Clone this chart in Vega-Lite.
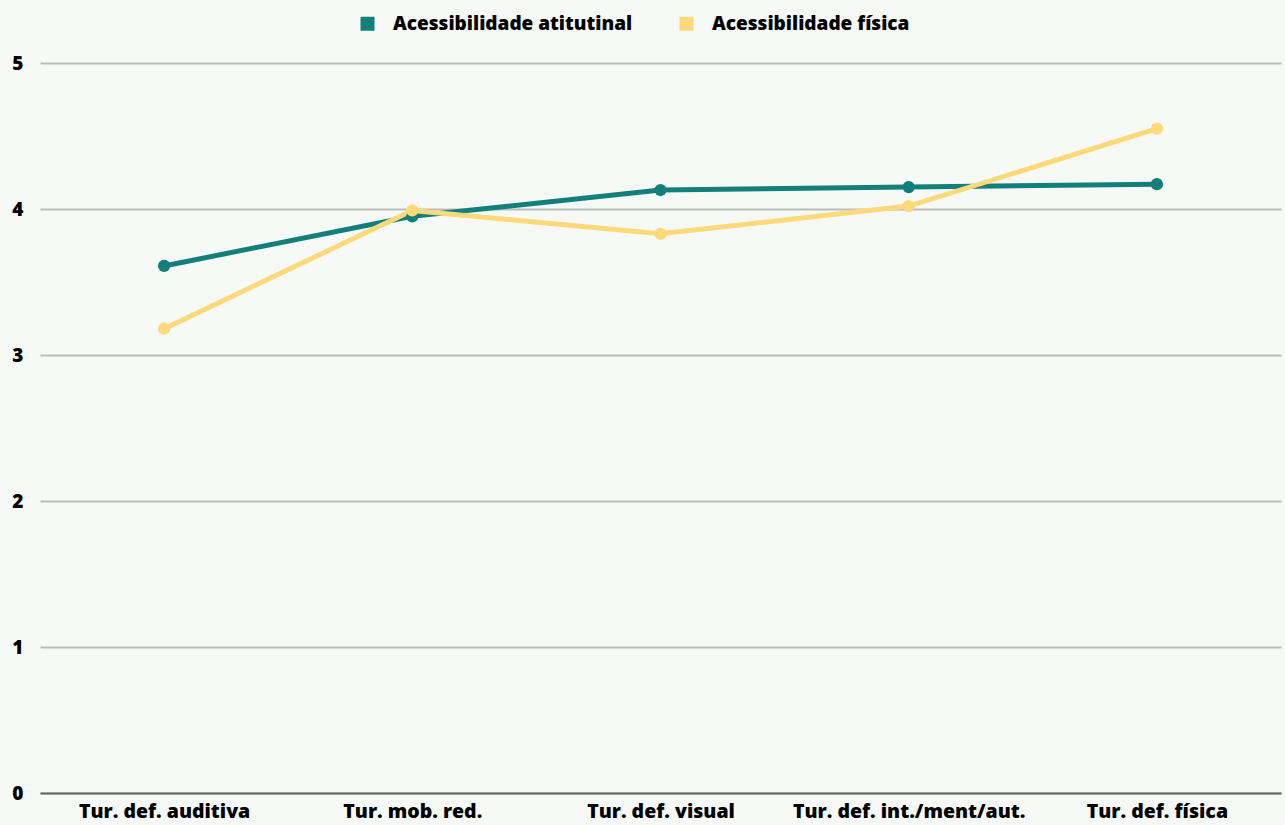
{
  "$schema": "https://vega.github.io/schema/vega-lite/v6.json",
  "autosize": "none",
  "width": 1241,
  "height": 730,
  "padding": {"left": 40, "top": 63, "right": 4, "bottom": 32},
  "background": "#f7f9f6",
  "config": {
    "view": {"stroke": null},
    "font": "Open Sans"
  },
  "data": {
    "values": [
      {"cat": "Tur. def. auditiva", "serie": "Acessibilidade atitutinal", "v": 3.61},
      {"cat": "Tur. mob. red.", "serie": "Acessibilidade atitutinal", "v": 3.95},
      {"cat": "Tur. def. visual", "serie": "Acessibilidade atitutinal", "v": 4.13},
      {"cat": "Tur. def. int./ment/aut.", "serie": "Acessibilidade atitutinal", "v": 4.15},
      {"cat": "Tur. def. física", "serie": "Acessibilidade atitutinal", "v": 4.17},
      {"cat": "Tur. def. auditiva", "serie": "Acessibilidade física", "v": 3.18},
      {"cat": "Tur. mob. red.", "serie": "Acessibilidade física", "v": 3.99},
      {"cat": "Tur. def. visual", "serie": "Acessibilidade física", "v": 3.83},
      {"cat": "Tur. def. int./ment/aut.", "serie": "Acessibilidade física", "v": 4.02},
      {"cat": "Tur. def. física", "serie": "Acessibilidade física", "v": 4.55}
    ]
  },
  "encoding": {
    "x": {
      "field": "cat", "type": "nominal",
      "sort": ["Tur. def. auditiva", "Tur. mob. red.", "Tur. def. visual", "Tur. def. int./ment/aut.", "Tur. def. física"],
      "scale": {"type": "point", "padding": 0.5},
      "axis": {
        "title": null, "labelAngle": 0, "ticks": false, "labelLimit": 0, "labelOverlap": false,
        "domainColor": "#666666", "domainWidth": 2,
        "labelFont": "Open Sans", "labelFontWeight": 800, "labelFontSize": 19.5,
        "labelColor": "#000000", "labelPadding": 9
      }
    },
    "y": {
      "field": "v", "type": "quantitative",
      "scale": {"domain": [0, 5]},
      "axis": {
        "title": null, "values": [0, 1, 2, 3, 4, 5], "labelOverlap": false, "labelFlush": false,
        "ticks": false, "domain": false,
        "gridColor": "#bbbbbb", "gridWidth": 2,
        "labelFont": "Open Sans", "labelFontWeight": 800, "labelFontSize": 19,
        "labelColor": "#000000", "labelPadding": 17
      }
    },
    "color": {
      "field": "serie", "type": "nominal",
      "scale": {"domain": ["Acessibilidade atitutinal", "Acessibilidade física"], "range": ["#137f7a", "#fcd97a"]},
      "legend": {
        "title": null, "orient": "none", "direction": "horizontal",
        "legendX": 318, "legendY": -49, "labelLimit": 0,
        "symbolType": "square", "symbolSize": 196, "symbolOpacity": 1,
        "symbolStrokeWidth": 0,
        "labelFont": "Open Sans", "labelFontWeight": 800, "labelFontSize": 19,
        "labelColor": "#000000", "labelOffset": 16, "columnPadding": 44
      }
    }
  },
  "layer": [
    {"mark": {"type": "line", "strokeWidth": 5}},
    {"mark": {"type": "point", "filled": true, "size": 150, "opacity": 1}}
  ]
}
